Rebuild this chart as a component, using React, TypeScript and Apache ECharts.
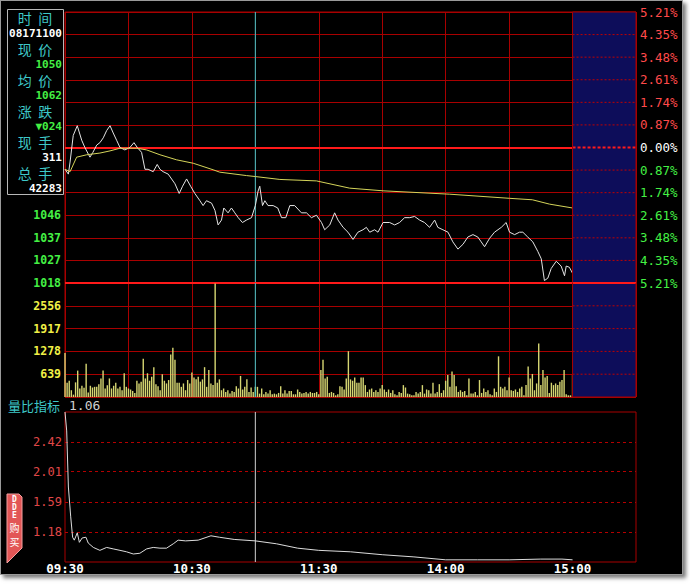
import React, { useEffect, useRef } from 'react';
import * as echarts from 'echarts';

// ---- reference values ----
const prevClose = 10.74;
const pctStep = 0.00869; // one grid step = 0.869 %
const tradingEnd = 240; // minutes 09:30 -> 15:00 (lunch removed)
const extendedEnd = 270;
const cursorMinute = 90; // 11:00

const priceTickLabels = ['1018', '1027', '1037', '1046', '1055', '1065', '1074', '1083', '1093', '1102', '1111', '1121', '1130'];
const pctTickLabels = ['5.21%', '4.35%', '3.48%', '2.61%', '1.74%', '0.87%', '0.00%', '0.87%', '1.74%', '2.61%', '3.48%', '4.35%', '5.21%'];
const timeTickMinutes = [0, 60, 120, 180, 240];
const timeTickLabels = ['09:30', '10:30', '11:30', '14:00', '15:00'];
const volumeMax = 3195;
const volumeStep = 639;
const ratioTicks = [1.18, 1.59, 2.01, 2.42];
const ratioMin = 0.77;
const ratioMax = 2.83;

const infoLabels = ['时  间', '现  价', '均  价', '涨  跌', '现  手', '总  手'];
const infoValues = ['08171100', '1050', '1062', '▼024', '311', '42283'];
const infoValueColors = ['#ffffff', '#44f044', '#44f044', '#44f044', '#ffffff', '#ffffff'];
const ratioTitle = '量比指标';
const ratioCursorText = '1.06';

// [minute, price]
const pricePoints: [number, number][] = [
  [0, 10.65], [1.6, 10.63], [2.4, 10.68], [3.9, 10.79], [5.8, 10.83], [7.9, 10.77], [9.4, 10.74], [11.8, 10.70],
  [13.2, 10.72], [15, 10.75], [16.5, 10.76], [18.1, 10.78], [19.7, 10.81], [21.3, 10.83], [22.8, 10.80], [24.4, 10.77],
  [26, 10.74], [28.3, 10.73], [30.7, 10.74], [32.6, 10.76], [34.2, 10.74], [36.2, 10.72], [37.8, 10.65], [39.3, 10.65],
  [41.7, 10.64], [43.6, 10.67], [44.9, 10.65], [46.4, 10.64], [48.8, 10.63], [52, 10.59], [54, 10.55], [55.6, 10.58],
  [57.5, 10.61], [59.4, 10.58], [61.4, 10.55], [63.8, 10.52], [65.3, 10.50], [66.9, 10.52], [69.3, 10.51], [70.9, 10.48],
  [72.4, 10.42], [74, 10.44], [75.1, 10.49], [77.1, 10.47], [78.7, 10.49], [80.3, 10.47], [81.9, 10.45], [83.9, 10.43],
  [85.8, 10.44], [88.2, 10.45], [90, 10.50], [91.3, 10.56], [92.1, 10.58], [93.4, 10.50], [94.5, 10.52], [96, 10.50],
  [98.4, 10.50], [100.6, 10.49], [102.4, 10.45], [104.4, 10.45], [106.3, 10.50], [108.6, 10.50], [111.8, 10.47],
  [114.2, 10.47], [116.5, 10.45], [118.9, 10.46], [121.3, 10.43], [122.8, 10.40], [125.2, 10.42], [127.5, 10.47],
  [129.1, 10.44], [131.5, 10.41], [133.8, 10.39], [136.2, 10.36], [138.5, 10.39], [140.9, 10.40], [142.5, 10.41],
  [144.1, 10.39], [146.4, 10.40], [148, 10.39], [150.4, 10.43], [153.5, 10.43], [155.9, 10.42], [158.2, 10.43],
  [160.6, 10.45], [163, 10.45], [165.3, 10.455], [167.7, 10.44], [170, 10.43], [172.4, 10.41], [174.8, 10.44],
  [176.3, 10.41], [178.7, 10.40], [181.1, 10.39], [183.4, 10.35], [185.8, 10.32], [188.2, 10.34], [190.5, 10.37],
  [192.9, 10.38], [195.2, 10.37], [196.8, 10.35], [198.4, 10.33], [200.8, 10.365], [203.1, 10.39], [206.3, 10.41],
  [208.6, 10.43], [210.2, 10.39], [212.6, 10.38], [214.9, 10.39], [216.5, 10.39], [218.8, 10.37], [221.2, 10.35],
  [223.6, 10.31], [225.2, 10.28], [226.7, 10.19], [228.3, 10.20], [229.9, 10.24], [232.3, 10.27], [234.6, 10.25],
  [236.2, 10.21], [237, 10.25], [238.5, 10.245], [240, 10.22],
];

const avgPoints: [number, number][] = [
  [0, 10.65], [2.4, 10.64], [5.5, 10.70], [10.3, 10.71], [16.5, 10.717], [21.3, 10.726], [26, 10.737], [33.9, 10.737],
  [38.6, 10.73], [44.9, 10.71], [52.8, 10.689], [60.6, 10.675], [70, 10.648], [73.2, 10.638], [85.8, 10.624],
  [90, 10.62], [101.6, 10.608], [118.9, 10.602], [134.6, 10.572], [150.4, 10.561], [181.9, 10.547], [210.2, 10.53],
  [221, 10.524], [229.1, 10.506], [240, 10.49],
];

// volume per minute (0 .. 240)
const volMorning1 = [1235, 400, 456, 190, 66, 410, 740, 240, 315, 257, 930, 124, 315, 266, 285, 285, 360, 520, 740, 238,
  330, 520, 240, 315, 400, 240, 285, 190, 665, 285, 238, 210, 170, 114, 456, 380, 430, 1075, 520, 665, 456, 570, 836, 360,
  304, 190, 636, 456, 380, 475, 1190, 1380, 1045, 400, 400, 285, 380, 190, 475, 380, 684];
const volMorning2 = [550, 494, 570, 430, 494, 836, 285, 760, 380, 333, 3180, 400, 494, 190, 238, 142, 190, 95, 170, 142,
  304, 238, 590, 210, 285, 494, 142, 266, 142, 285, 285, 95, 238, 76, 142, 95, 190, 76, 95, 76, 114, 304, 95, 190, 95, 170,
  170, 76, 76, 210, 142, 95, 114, 142, 95, 142, 114, 114, 142, 76, 760];
const volAfternoon1 = [1045, 520, 570, 114, 142, 114, 47, 76, 304, 285, 210, 520, 1283, 494, 456, 550, 400, 400, 550, 550,
  333, 142, 210, 238, 142, 190, 142, 238, 333, 210, 142, 210, 114, 190, 76, 47, 142, 114, 333, 266, 95, 76, 47, 47, 142, 95,
  142, 333, 95, 210, 190, 95, 400, 95, 142, 360, 114, 190, 456, 618, 285, 712];
const volAfternoon2 = [618, 304, 142, 190, 142, 170, 47, 520, 95, 95, 142, 47, 475, 114, 238, 142, 190, 76, 47, 238, 142,
  1140, 285, 238, 285, 190, 550, 190, 170, 210, 142, 238, 285, 47, 333, 855, 520, 646, 190, 380, 1500, 333, 760, 550, 590,
  114, 400, 333, 380, 333, 430, 475, 760, 76, 47, 47, 618];
const volumes = [...volMorning1, ...volMorning2, ...volAfternoon1, ...volAfternoon2];

// [minute, volume ratio]
const ratioPoints: [number, number][] = [
  [0, 2.83], [0.8, 2.57], [1.6, 1.80], [2.7, 1.39], [3.6, 1.11], [4.4, 1.07], [5.8, 1.17], [6.8, 1.04], [8.1, 1.10],
  [9.9, 1.11], [11, 1.03], [13.4, 0.97], [16.5, 0.93], [19.7, 0.97], [22.8, 0.95], [26, 0.93], [29.1, 0.91], [32.3, 0.88],
  [35.4, 0.89], [38.6, 0.95], [41.7, 0.97], [44.9, 0.96], [48, 0.96], [51.2, 1.02], [53.5, 1.07], [57, 1.06], [63, 1.07],
  [69, 1.13], [73, 1.11], [80, 1.08], [90, 1.06], [100, 1.02], [110, 0.96], [120, 0.93], [135, 0.91], [150, 0.87],
  [165, 0.84], [180, 0.80], [195, 0.80], [210, 0.80], [225, 0.81], [235, 0.81], [240, 0.80],
];

export default function App() {
  const ref = useRef<HTMLDivElement>(null);

  useEffect(() => {
    document.body.style.margin = '0';
    if (!ref.current) return;
    const chart = echarts.init(ref.current, null, { renderer: 'svg' });
    const RED = '#a80000';
    const NAVY = '#0d0d5a';
    const CYAN = '#3cc8cc';
    const mono = 'DejaVu Sans Mono';
    const cjk = 'Noto Sans CJK SC';
    const toUnit = (p: number) => (p / prevClose - 1) / pctStep;
    const stepIndex = (v: any) => Math.round(Number(v));
    const sideColor = (v: any) => {
      const k = stepIndex(v);
      return k > 0 ? '#ff4a4a' : k < 0 ? '#44f044' : '#ffffff';
    };
    const txt = (x: number, y: number, text: string, fill: string, font: string, align: string) => ({
      type: 'text', z: 101, x, y,
      style: { text, fill, font, textAlign: align, textVerticalAlign: 'middle', align, verticalAlign: 'middle' },
    });

    const graphic: any[] = [
      {
        type: 'rect', z: 100, shape: { x: 7.5, y: 9.5, width: 56, height: 185 },
        style: { fill: '#000', stroke: '#b8b8b8', lineWidth: 1 },
      },
    ];
    infoLabels.forEach((lab, i) => {
      graphic.push(txt(35, 18 + i * 30.9, lab, '#3ec8c8', `14px "${cjk}"`, 'center'));
      graphic.push(txt(62, 33.5 + i * 30.9, infoValues[i], infoValueColors[i], `bold 11px "${mono}"`, 'right'));
    });
    graphic.push(txt(8, 405, ratioTitle, '#3ec8c8', `13px "${cjk}"`, 'left'));
    graphic.push(txt(69, 405, ratioCursorText, '#d0d0d0', `13px "${mono}"`, 'left'));
    graphic.push({
      type: 'polygon', z: 100,
      shape: { points: [[7, 494], [19, 494], [22, 497], [22, 548], [7, 563]] },
      style: { fill: '#e25656', stroke: '#f2a0a0', lineWidth: 1 },
    });
    ['D', 'D', 'E'].forEach((ch, i) => {
      graphic.push(txt(14.5, 499 + i * 8, ch, '#fff', `bold 8px "${mono}"`, 'center'));
    });
    ['购', '买'].forEach((ch, i) => {
      graphic.push(txt(14.5, 527 + i * 14, ch, '#fff', `10px "${cjk}"`, 'center'));
    });

    // after-hours (15:00+) navy zone with dashed grid, drawn through the axes' own scales
    const priceSteps = pctTickLabels.map((_, i) => i - 6);
    const volSteps = [0, 1, 2, 3, 4, 5].map((i) => i * volumeStep);
    const zoneRender = (yMin: number, yMax: number, levels: number[], boldLevels: number[]) => (params: any, api: any) => {
      const tl = api.coord([tradingEnd, yMax]);
      const br = api.coord([extendedEnd, yMin]);
      const children: any[] = [
        { type: 'rect', shape: { x: tl[0], y: tl[1], width: br[0] - tl[0], height: br[1] - tl[1] }, style: { fill: NAVY } },
      ];
      levels.forEach((lv) => {
        const y = api.coord([tradingEnd, lv])[1];
        const bold = boldLevels.indexOf(lv) >= 0;
        const edge = lv === yMin || lv === yMax;
        children.push({
          type: 'line',
          shape: { x1: tl[0], y1: y, x2: br[0], y2: y },
          style: bold
            ? { stroke: '#ff1a1a', lineWidth: 2, lineDash: lv === 0 ? [3, 2] : null }
            : { stroke: edge ? RED : '#c00000', lineWidth: 1, lineDash: edge ? null : [2, 2] },
        });
      });
      children.push({ type: 'line', shape: { x1: tl[0], y1: tl[1], x2: tl[0], y2: br[1] }, style: { stroke: RED, lineWidth: 1 } });
      children.push({ type: 'line', shape: { x1: br[0], y1: tl[1], x2: br[0], y2: br[1] }, style: { stroke: RED, lineWidth: 1 } });
      return { type: 'group', children };
    };

    const option: any = {
      animation: false,
      backgroundColor: 'transparent',
      graphic,
      grid: [
        { left: 65, right: 54, top: 12, height: 271, show: true, borderColor: RED, borderWidth: 1, backgroundColor: 'transparent' },
        { left: 65, right: 54, top: 283, height: 114, show: true, borderColor: RED, borderWidth: 1, backgroundColor: 'transparent' },
        { left: 65, right: 54, top: 412, height: 150, show: true, borderColor: RED, borderWidth: 1, backgroundColor: 'transparent' },
      ],
      xAxis: [0, 1, 2].map((i) => ({
        type: 'value', gridIndex: i, min: 0, max: extendedEnd, interval: 30,
        axisLine: { show: false }, axisTick: { show: false },
        splitLine: { show: i < 2, lineStyle: { color: RED, width: 1 } },
        axisLabel: i < 2
          ? { show: false }
          : {
            show: true, margin: 0, color: '#ffffff', fontFamily: mono, fontWeight: 'bold', fontSize: 12.5,
            formatter: (v: number) => {
              const k = timeTickMinutes.indexOf(Math.round(v));
              return k >= 0 ? timeTickLabels[k] : '';
            },
          },
      })),
      yAxis: [
        {
          type: 'value', gridIndex: 0, position: 'left', min: -6, max: 6, interval: 1,
          axisLine: { show: false }, axisTick: { show: false },
          splitLine: { show: true, lineStyle: { color: RED, width: 1 } },
          axisLabel: {
            margin: 4, fontFamily: mono, fontWeight: 'bold', fontSize: 11.5, color: sideColor,
            formatter: (v: number) => {
              const k = stepIndex(v);
              return k <= -3 ? priceTickLabels[k + 6] : '';
            },
          },
        },
        {
          type: 'value', gridIndex: 0, position: 'right', min: -6, max: 6, interval: 1,
          axisLine: { show: false }, axisTick: { show: false }, splitLine: { show: false },
          axisLabel: {
            margin: 4, fontFamily: mono, fontSize: 12.5, color: sideColor,
            formatter: (v: number) => pctTickLabels[stepIndex(v) + 6],
          },
        },
        {
          type: 'value', gridIndex: 1, position: 'left', min: 0, max: volumeMax, interval: volumeStep,
          axisLine: { show: false }, axisTick: { show: false },
          splitLine: { show: true, lineStyle: { color: RED, width: 1 } },
          axisLabel: {
            margin: 4, fontFamily: mono, fontWeight: 'bold', fontSize: 11.5, color: '#f0f046',
            formatter: (v: number) => (v <= 0 || v >= volumeMax ? '' : String(v)),
          },
        },
        {
          type: 'value', gridIndex: 2, position: 'left', min: ratioMin, max: ratioMax,
          axisLine: { show: false }, axisTick: { show: false }, splitLine: { show: false },
          axisLabel: { show: false },
        },
      ],
      series: [
        {
          name: 'price', type: 'line', xAxisIndex: 0, yAxisIndex: 0, z: 5,
          showSymbol: false, symbol: 'none', silent: true,
          data: pricePoints.map(([m, p]) => [m, toUnit(p)]),
          lineStyle: { color: '#e4e4e4', width: 1 },
          markLine: {
            silent: true, symbol: 'none', label: { show: false },
            lineStyle: { color: '#ff1a1a', width: 2, type: 'solid' },
            data: [{ yAxis: 0 }, { yAxis: -6 }],
          },
        },
        {
          name: 'avg', type: 'line', xAxisIndex: 0, yAxisIndex: 0, z: 5,
          showSymbol: false, symbol: 'none', silent: true,
          data: avgPoints.map(([m, p]) => [m, toUnit(p)]),
          lineStyle: { color: '#d4d45a', width: 1 },
        },
        {
          name: 'cursorPrice', type: 'line', xAxisIndex: 0, yAxisIndex: 0, z: 4,
          showSymbol: false, symbol: 'none', silent: true,
          data: [[cursorMinute, -6], [cursorMinute, 6]],
          lineStyle: { color: CYAN, width: 1 },
        },
        {
          name: 'afterHoursPrice', type: 'custom', xAxisIndex: 0, yAxisIndex: 0, z: 20, silent: true, clip: false,
          data: [[tradingEnd, extendedEnd]],
          renderItem: zoneRender(-6, 6, priceSteps, [0, -6]),
        },
        {
          name: 'volume', type: 'bar', xAxisIndex: 1, yAxisIndex: 2, z: 5, silent: true,
          barWidth: 1.4,
          data: volumes.map((v, i) => [i, v]),
          itemStyle: { color: '#d6d672' },
        },
        {
          name: 'cursorVolume', type: 'line', xAxisIndex: 1, yAxisIndex: 2, z: 6,
          showSymbol: false, symbol: 'none', silent: true,
          data: [[cursorMinute, 0], [cursorMinute, volumeMax]],
          lineStyle: { color: CYAN, width: 1 },
        },
        {
          name: 'afterHoursVolume', type: 'custom', xAxisIndex: 1, yAxisIndex: 2, z: 20, silent: true, clip: false,
          data: [[tradingEnd, extendedEnd]],
          renderItem: zoneRender(0, volumeMax, volSteps, [volumeMax]),
        },
        {
          name: 'ratio', type: 'line', xAxisIndex: 2, yAxisIndex: 3, z: 5,
          showSymbol: false, symbol: 'none', silent: true, clip: true,
          data: ratioPoints,
          lineStyle: { color: '#dcdcdc', width: 1 },
          markLine: {
            silent: true, symbol: 'none',
            data: ratioTicks.map((v) => ({
              yAxis: v,
              lineStyle: { color: '#b40000', width: 1, type: [3, 3] },
              label: {
                show: true, position: 'start', distance: 3, color: '#e04848', fontFamily: mono, fontSize: 12,
                formatter: (p: any) => Number(p.value).toFixed(2),
              },
            })),
          },
        },
        {
          name: 'cursorRatio', type: 'line', xAxisIndex: 2, yAxisIndex: 3, z: 4,
          showSymbol: false, symbol: 'none', silent: true,
          data: [[cursorMinute, ratioMin], [cursorMinute, ratioMax]],
          lineStyle: { color: '#d0d0d0', width: 1 },
        },
      ],
    };
    chart.setOption(option);
    return () => chart.dispose();
  }, []);

  return (
    <div style={{ position: 'relative', width: 690, height: 584, background: '#ffffff', overflow: 'hidden' }}>
      <div
        style={{
          position: 'absolute', left: 0, top: 0, width: 681, height: 573, background: '#000',
          border: '1px solid #9a9a9a', boxShadow: '3px 3px 4px #7a7a7a',
        }}
      />
      <div ref={ref} style={{ position: 'absolute', left: 0, top: 0, width: 690, height: 584 }} />
    </div>
  );
}
